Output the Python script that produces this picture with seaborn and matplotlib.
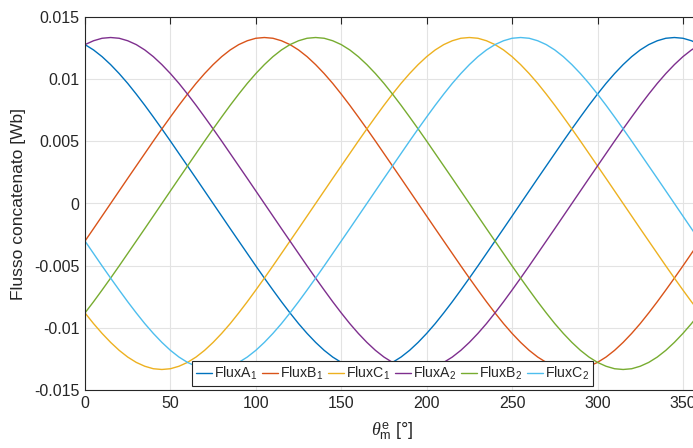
import matplotlib
matplotlib.use("Agg")
import matplotlib.pyplot as plt
import seaborn as sns
import pandas as pd

theta = list(range(0, 361, 5))

fluxA1 = [0.01278, 0.01235, 0.01181, 0.01117, 0.01045, 0.00966, 0.00880, 0.00790, 0.00696, 0.00600, 0.00502, 0.00402,
          0.00302, 0.00202, 0.00101, 0.0, -0.00101, -0.00202, -0.00302, -0.00402, -0.00502, -0.00600, -0.00696, -0.00790,
          -0.00880, -0.00966, -0.01045, -0.01117, -0.01181, -0.01235, -0.01278, -0.01309, -0.01329, -0.01335, -0.01329, -0.01309,
          -0.01278, -0.01235, -0.01181, -0.01117, -0.01045, -0.00966, -0.00880, -0.00790, -0.00696, -0.00600, -0.00502, -0.00402,
          -0.00302, -0.00202, -0.00101, 0.0, 0.00101, 0.00202, 0.00302, 0.00402, 0.00502, 0.00600, 0.00696, 0.00790,
          0.00880, 0.00966, 0.01045, 0.01117, 0.01181, 0.01235, 0.01278, 0.01309, 0.01329, 0.01335, 0.01329, 0.01309,
          0.01278]
fluxB1 = [-0.00302, -0.00202, -0.00101, 0.0, 0.00101, 0.00202, 0.00302, 0.00402, 0.00502, 0.00600, 0.00696, 0.00790,
          0.00880, 0.00966, 0.01045, 0.01117, 0.01181, 0.01235, 0.01278, 0.01309, 0.01329, 0.01335, 0.01329, 0.01309,
          0.01278, 0.01235, 0.01181, 0.01117, 0.01045, 0.00966, 0.00880, 0.00790, 0.00696, 0.00600, 0.00502, 0.00402,
          0.00302, 0.00202, 0.00101, 0.0, -0.00101, -0.00202, -0.00302, -0.00402, -0.00502, -0.00600, -0.00696, -0.00790,
          -0.00880, -0.00966, -0.01045, -0.01117, -0.01181, -0.01235, -0.01278, -0.01309, -0.01329, -0.01335, -0.01329, -0.01309,
          -0.01278, -0.01235, -0.01181, -0.01117, -0.01045, -0.00966, -0.00880, -0.00790, -0.00696, -0.00600, -0.00502, -0.00402,
          -0.00302]
fluxC1 = [-0.00880, -0.00966, -0.01045, -0.01117, -0.01181, -0.01235, -0.01278, -0.01309, -0.01329, -0.01335, -0.01329, -0.01309,
          -0.01278, -0.01235, -0.01181, -0.01117, -0.01045, -0.00966, -0.00880, -0.00790, -0.00696, -0.00600, -0.00502, -0.00402,
          -0.00302, -0.00202, -0.00101, 0.0, 0.00101, 0.00202, 0.00302, 0.00402, 0.00502, 0.00600, 0.00696, 0.00790,
          0.00880, 0.00966, 0.01045, 0.01117, 0.01181, 0.01235, 0.01278, 0.01309, 0.01329, 0.01335, 0.01329, 0.01309,
          0.01278, 0.01235, 0.01181, 0.01117, 0.01045, 0.00966, 0.00880, 0.00790, 0.00696, 0.00600, 0.00502, 0.00402,
          0.00302, 0.00202, 0.00101, 0.0, -0.00101, -0.00202, -0.00302, -0.00402, -0.00502, -0.00600, -0.00696, -0.00790,
          -0.00880]
fluxA2 = [0.01278, 0.01309, 0.01329, 0.01335, 0.01329, 0.01309, 0.01278, 0.01235, 0.01181, 0.01117, 0.01045, 0.00966,
          0.00880, 0.00790, 0.00696, 0.00600, 0.00502, 0.00402, 0.00302, 0.00202, 0.00101, 0.0, -0.00101, -0.00202,
          -0.00302, -0.00402, -0.00502, -0.00600, -0.00696, -0.00790, -0.00880, -0.00966, -0.01045, -0.01117, -0.01181, -0.01235,
          -0.01278, -0.01309, -0.01329, -0.01335, -0.01329, -0.01309, -0.01278, -0.01235, -0.01181, -0.01117, -0.01045, -0.00966,
          -0.00880, -0.00790, -0.00696, -0.00600, -0.00502, -0.00402, -0.00302, -0.00202, -0.00101, 0.0, 0.00101, 0.00202,
          0.00302, 0.00402, 0.00502, 0.00600, 0.00696, 0.00790, 0.00880, 0.00966, 0.01045, 0.01117, 0.01181, 0.01235,
          0.01278]
fluxB2 = [-0.00880, -0.00790, -0.00696, -0.00600, -0.00502, -0.00402, -0.00302, -0.00202, -0.00101, 0.0, 0.00101, 0.00202,
          0.00302, 0.00402, 0.00502, 0.00600, 0.00696, 0.00790, 0.00880, 0.00966, 0.01045, 0.01117, 0.01181, 0.01235,
          0.01278, 0.01309, 0.01329, 0.01335, 0.01329, 0.01309, 0.01278, 0.01235, 0.01181, 0.01117, 0.01045, 0.00966,
          0.00880, 0.00790, 0.00696, 0.00600, 0.00502, 0.00402, 0.00302, 0.00202, 0.00101, 0.0, -0.00101, -0.00202,
          -0.00302, -0.00402, -0.00502, -0.00600, -0.00696, -0.00790, -0.00880, -0.00966, -0.01045, -0.01117, -0.01181, -0.01235,
          -0.01278, -0.01309, -0.01329, -0.01335, -0.01329, -0.01309, -0.01278, -0.01235, -0.01181, -0.01117, -0.01045, -0.00966,
          -0.00880]
fluxC2 = [-0.00302, -0.00402, -0.00502, -0.00600, -0.00696, -0.00790, -0.00880, -0.00966, -0.01045, -0.01117, -0.01181, -0.01235,
          -0.01278, -0.01309, -0.01329, -0.01335, -0.01329, -0.01309, -0.01278, -0.01235, -0.01181, -0.01117, -0.01045, -0.00966,
          -0.00880, -0.00790, -0.00696, -0.00600, -0.00502, -0.00402, -0.00302, -0.00202, -0.00101, 0.0, 0.00101, 0.00202,
          0.00302, 0.00402, 0.00502, 0.00600, 0.00696, 0.00790, 0.00880, 0.00966, 0.01045, 0.01117, 0.01181, 0.01235,
          0.01278, 0.01309, 0.01329, 0.01335, 0.01329, 0.01309, 0.01278, 0.01235, 0.01181, 0.01117, 0.01045, 0.00966,
          0.00880, 0.00790, 0.00696, 0.00600, 0.00502, 0.00402, 0.00302, 0.00202, 0.00101, 0.0, -0.00101, -0.00202,
          -0.00302]

series_names = ["FluxA$_1$", "FluxB$_1$", "FluxC$_1$", "FluxA$_2$", "FluxB$_2$", "FluxC$_2$"]
series_values = [fluxA1, fluxB1, fluxC1, fluxA2, fluxB2, fluxC2]
colors = ["#0072BD", "#D95319", "#EDB120", "#7E2F8E", "#77AC30", "#4DBEEE"]

x_ticks = [0, 50, 100, 150, 200, 250, 300, 350]
y_ticks = [-0.015, -0.01, -0.005, 0, 0.005, 0.01, 0.015]
y_tick_labels = ["-0.015", "-0.01", "-0.005", "0", "0.005", "0.01", "0.015"]

rows = []
for name, vals in zip(series_names, series_values):
    for t, v in zip(theta, vals):
        rows.append({"theta": t, "flux": v, "series": name})
df = pd.DataFrame(rows)

sns.set_theme(style="whitegrid")
plt.rcParams["font.family"] = ["Liberation Sans", "DejaVu Sans"]
plt.rcParams["mathtext.fontset"] = "custom"
plt.rcParams["mathtext.rm"] = "Liberation Sans"
plt.rcParams["mathtext.it"] = "Liberation Serif:italic"
plt.rcParams["mathtext.sf"] = "Liberation Sans"

fig = plt.figure(figsize=(6.93, 4.48), dpi=100)
ax = fig.add_axes([85 / 693, 1 - 390 / 448, 615 / 693, 373 / 448])

sns.lineplot(data=df, x="theta", y="flux", hue="series", palette=colors,
             hue_order=series_names, linewidth=1.0, ax=ax, legend=False)

ax.set_xlim(0, 360)
ax.set_ylim(-0.015, 0.015)
ax.set_xticks(x_ticks)
ax.set_yticks(y_ticks)
ax.set_yticklabels(y_tick_labels)
ax.set_facecolor("white")
ax.grid(True, color="#e3e3e3", linewidth=0.8)
for s in ax.spines.values():
    s.set_color("#262626")
    s.set_linewidth(0.8)
ax.tick_params(axis="both", direction="in", length=5, width=0.8, color="#262626",
               labelsize=11.5, labelcolor="#262626", top=True, right=True, pad=4)

ax.set_xlabel(r"$\theta_{\mathrm{m}}^{\mathrm{e}}$ [°]", fontsize=13, color="#262626", labelpad=7)
ax.set_ylabel("Flusso concatenato [Wb]", fontsize=12.5, color="#262626", labelpad=6)

handles = ax.get_lines()[:6]
leg = ax.legend(handles, series_names, loc="lower center", bbox_to_anchor=(0.5, 0.01),
                ncol=6, fontsize=10.2, frameon=True, fancybox=False, framealpha=1,
                edgecolor="#262626", handlelength=1.15, handletextpad=0.15, columnspacing=0.3,
                borderpad=0.3, borderaxespad=0.0)
leg.get_frame().set_linewidth(0.8)

fig.savefig("out.png", dpi=100)
